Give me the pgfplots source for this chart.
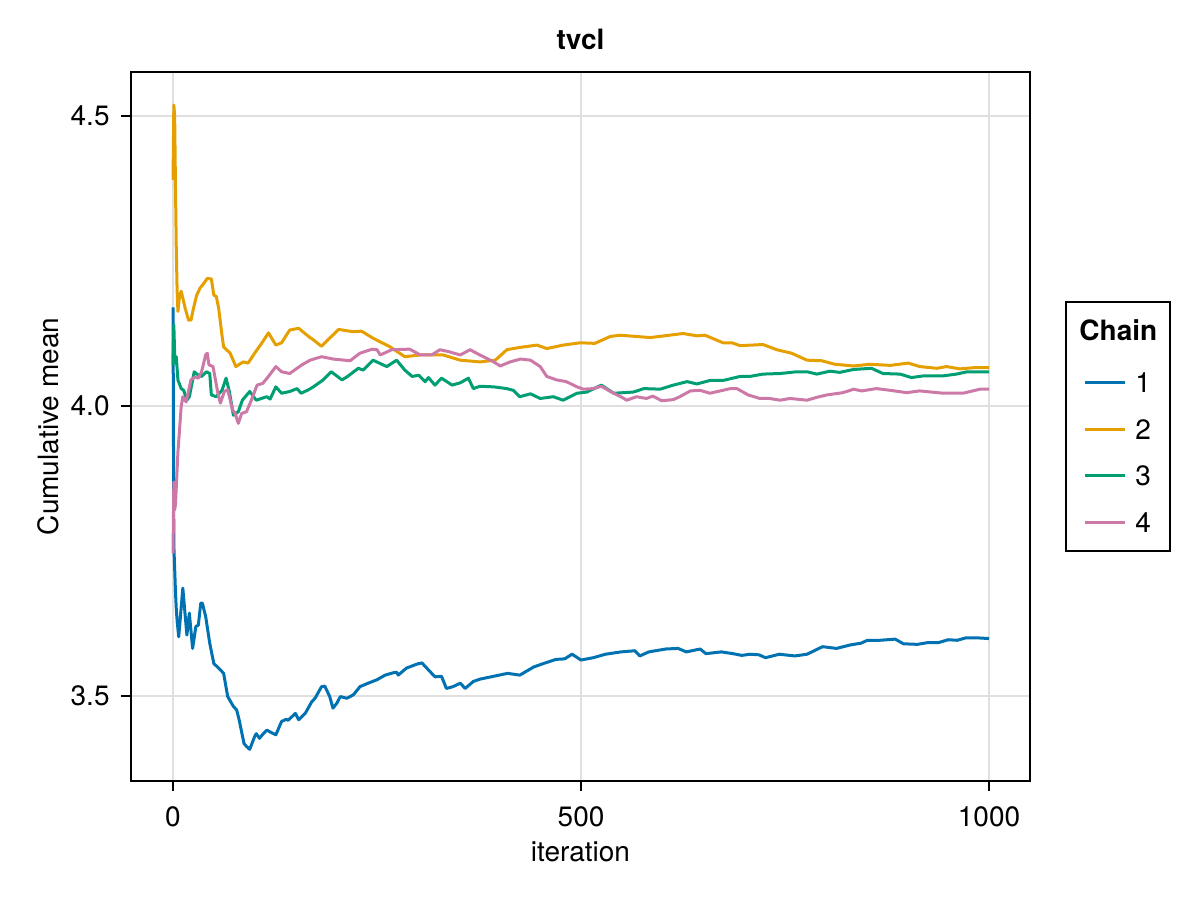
\documentclass[border=0pt]{standalone}
\usepackage{fontspec}
\setmainfont{TeX Gyre Heros}
\usepackage{pgfplots}
\pgfplotsset{compat=1.18}
\definecolor{chainA}{HTML}{0072B2}
\definecolor{chainB}{HTML}{E69F00}
\definecolor{chainC}{HTML}{009E73}
\definecolor{chainD}{HTML}{CC79A7}

\begin{document}
\begin{tikzpicture}[font=\fontsize{14bp}{17bp}\selectfont]
\begin{axis}[
    scale only axis,
    width=449.5bp, height=354.5bp,
    xmin=-51.5, xmax=1050.2,
    ymin=3.3534, ymax=4.5759,
    xtick={0,500,1000},
    ytick={3.5,4.0,4.5},
    /pgf/number format/assume math mode=true,
    /pgf/number format/1000 sep={},
    yticklabel style={/pgf/number format/fixed,
        /pgf/number format/fixed zerofill,
        /pgf/number format/precision=1,
        inner sep=0pt, anchor=east, xshift=-5.5bp},
    xticklabel style={inner sep=0pt, anchor=north, yshift=-7.85bp},
    tick pos=left,
    tick align=outside,
    major tick length=5bp,
    tick style={black, line width=1bp},
    xmajorgrids, ymajorgrids,
    grid style={color=black!12, line width=1bp},
    axis line style={line width=1bp},
    title={\textbf{tvcl}},
    title style={at={(axis description cs:0.5,1.0155)}, anchor=base, inner sep=0pt},
    xlabel={iteration},
    xlabel style={at={(axis description cs:0.5,-0.1142)}, anchor=base, inner sep=0pt},
    ylabel={Cumulative mean},
    ylabel style={at={(axis description cs:-0.0801,0.5)}, anchor=base, inner sep=0pt},
    legend cell align=left,
    legend style={draw=black, line width=1bp, fill=white,
        at={(1.0389,0.5)}, anchor=west,
        inner xsep=6.5bp, inner ysep=9.5bp,
        row sep=13.25bp, column sep=4.5bp,
        nodes={inner sep=0pt, text height=10bp, text depth=0bp}},
    legend image code/.code={\path[draw=none] (0bp,-4bp) rectangle (0bp,4bp);
        \draw[#1] (3bp,0bp) -- (23bp,0bp);},
    every axis plot/.append style={line width=1.5bp, line join=round, mark=none},
]
\addlegendimage{empty legend}
\addlegendentry[text depth=2.75bp]{\hspace{-28bp}\textbf{Chain}}

% chain 1
\addplot[chainA] coordinates {
(0,4.17)(1,3.76)(2,3.72)(3,3.68)(4,3.65)(5,3.63)(7,3.602)(12,3.686)(17,3.605)
(20,3.643)(24,3.582)(28,3.62)(31,3.622)(34,3.66)(36,3.66)(40,3.637)(45,3.591)
(50,3.556)(58,3.545)(62,3.539)(67,3.499)(74,3.482)(78,3.476)(81,3.459)(87,3.418)
(90,3.413)(94,3.408)(100,3.43)(102,3.435)(106,3.427)(110,3.434)(115,3.441)
(119,3.438)(126,3.433)(133,3.456)(139,3.46)(141,3.458)(150,3.47)(154,3.459)
(162,3.47)(170,3.49)(174,3.496)(182,3.516)(186,3.517)(192,3.499)(196,3.479)
(201,3.488)(205,3.499)(213,3.496)(221,3.502)(229,3.516)(239,3.522)(250,3.528)
(260,3.536)(270,3.540)(274,3.541)(276,3.536)(286,3.548)(299,3.555)(305,3.557)
(315,3.542)(321,3.533)(329,3.534)(335,3.513)(343,3.516)(352,3.522)(358,3.513)
(368,3.525)(376,3.529)(393,3.534)(410,3.539)(425,3.536)(442,3.55)(454,3.556)
(469,3.563)(480,3.564)(489,3.572)(500,3.562)(515,3.566)(530,3.572)(549,3.576)
(566,3.578)(572,3.569)(583,3.576)(604,3.581)(619,3.582)(629,3.576)(646,3.581)
(653,3.573)(672,3.576)(686,3.573)(697,3.57)(707,3.572)(718,3.571)(726,3.566)
(743,3.572)(762,3.569)(777,3.572)(796,3.585)(813,3.582)(830,3.588)(843,3.591)
(851,3.596)(866,3.596)(885,3.598)(895,3.59)(912,3.589)(925,3.592)(938,3.592)
(950,3.597)(961,3.596)(971,3.6)(988,3.6)(1000,3.599)
};
\addlegendentry{1}

% chain 2
\addplot[chainB] coordinates {
(0,4.39)(1,4.519)(2,4.50)(3,4.38)(4,4.27)(5,4.2)(6,4.163)(8,4.19)(10,4.198)
(15,4.168)(19,4.148)(22,4.148)(25,4.168)(29,4.191)(33,4.203)(38,4.212)(42,4.22)
(47,4.219)(50,4.191)(53,4.189)(56,4.168)(60,4.122)(62,4.102)(70,4.091)(77,4.068)
(86,4.076)(92,4.074)(100,4.091)(109,4.109)(117,4.126)(126,4.105)(133,4.109)
(143,4.131)(154,4.134)(166,4.12)(172,4.114)(182,4.103)(192,4.117)(203,4.132)
(221,4.128)(231,4.129)(245,4.117)(266,4.102)(284,4.085)(303,4.088)(331,4.088)
(352,4.079)(376,4.076)(395,4.079)(409,4.097)(425,4.101)(446,4.105)(458,4.099)
(478,4.105)(499,4.109)(517,4.108)(536,4.12)(548,4.122)(585,4.118)(625,4.125)
(642,4.121)(652,4.122)(674,4.109)(685,4.109)(695,4.104)(723,4.106)(740,4.097)
(758,4.091)(777,4.079)(795,4.078)(811,4.072)(834,4.069)(854,4.072)(879,4.07)
(901,4.074)(915,4.068)(936,4.065)(948,4.068)(964,4.064)(981,4.066)(1000,4.066)
};
\addlegendentry{2}

% chain 3
\addplot[chainC] coordinates {
(0,4.07)(1,4.14)(2,4.09)(3,4.074)(4,4.085)(6,4.045)(10,4.03)(13,4.027)(17,4.01)
(20,4.016)(26,4.059)(31,4.053)(35,4.051)(41,4.059)(45,4.056)(47,4.019)(53,4.016)
(60,4.027)(65,4.048)(69,4.025)(74,3.984)(80,3.99)(85,4.01)(94,4.025)(102,4.01)
(115,4.016)(119,4.012)(126,4.033)(133,4.022)(143,4.025)(152,4.03)(157,4.022)
(166,4.028)(172,4.033)(184,4.045)(194,4.059)(207,4.045)(213,4.05)(227,4.065)
(233,4.062)(245,4.079)(262,4.068)(274,4.079)(284,4.062)(293,4.051)(301,4.053)
(309,4.042)(313,4.049)(321,4.036)(329,4.048)(342,4.036)(352,4.04)(362,4.048)
(368,4.03)(376,4.034)(393,4.033)(409,4.03)(417,4.027)(425,4.016)(438,4.021)
(450,4.013)(466,4.016)(478,4.01)(495,4.022)(507,4.024)(525,4.036)(540,4.022)
(564,4.024)(577,4.03)(597,4.029)(613,4.036)(630,4.042)(642,4.038)(658,4.044)
(674,4.044)(695,4.051)(707,4.051)(723,4.055)(744,4.056)(764,4.059)(777,4.059)
(789,4.055)(805,4.06)(817,4.058)(834,4.063)(856,4.065)(870,4.056)(891,4.055)
(905,4.049)(920,4.052)(944,4.052)(960,4.055)(973,4.059)(1000,4.059)
};
\addlegendentry{3}

% chain 4
\addplot[chainD] coordinates {
(0,3.746)(1,3.869)(2,3.821)(3,3.83)(6,3.92)(10,3.999)(12,4.016)(16,4.007)
(22,4.045)(27,4.05)(31,4.048)(35,4.059)(40,4.088)(42,4.091)(44,4.071)(49,4.068)
(55,4.022)(58,4.005)(63,4.025)(67,4.028)(73,3.993)(76,3.988)(80,3.97)(84,3.987)
(90,3.99)(96,4.01)(103,4.036)(110,4.039)(117,4.051)(126,4.068)(133,4.059)
(143,4.056)(158,4.071)(168,4.079)(182,4.085)(196,4.081)(217,4.078)(229,4.091)
(244,4.098)(250,4.097)(254,4.088)(268,4.097)(290,4.098)(303,4.088)(317,4.088)
(327,4.097)(337,4.094)(352,4.088)(364,4.097)(376,4.088)(393,4.076)(401,4.069)
(413,4.076)(426,4.081)(438,4.079)(450,4.068)(458,4.051)(470,4.045)(482,4.042)
(495,4.033)(503,4.029)(515,4.03)(525,4.034)(536,4.025)(550,4.015)(556,4.01)
(568,4.016)(580,4.013)(588,4.017)(599,4.009)(613,4.011)(621,4.016)(634,4.026)
(646,4.027)(658,4.022)(683,4.03)(691,4.03)(705,4.019)(719,4.013)(731,4.013)
(744,4.01)(756,4.013)(777,4.01)(789,4.015)(801,4.019)(821,4.023)(834,4.029)
(844,4.026)(862,4.03)(879,4.027)(899,4.023)(915,4.026)(944,4.022)(968,4.022)
(989,4.029)(1000,4.029)
};
\addlegendentry{4}
\end{axis}
\path ([xshift=-65.5bp,yshift=-59.5bp]current axis.south west)
    rectangle ([xshift=85bp,yshift=36bp]current axis.north east);
\end{tikzpicture}
\end{document}
